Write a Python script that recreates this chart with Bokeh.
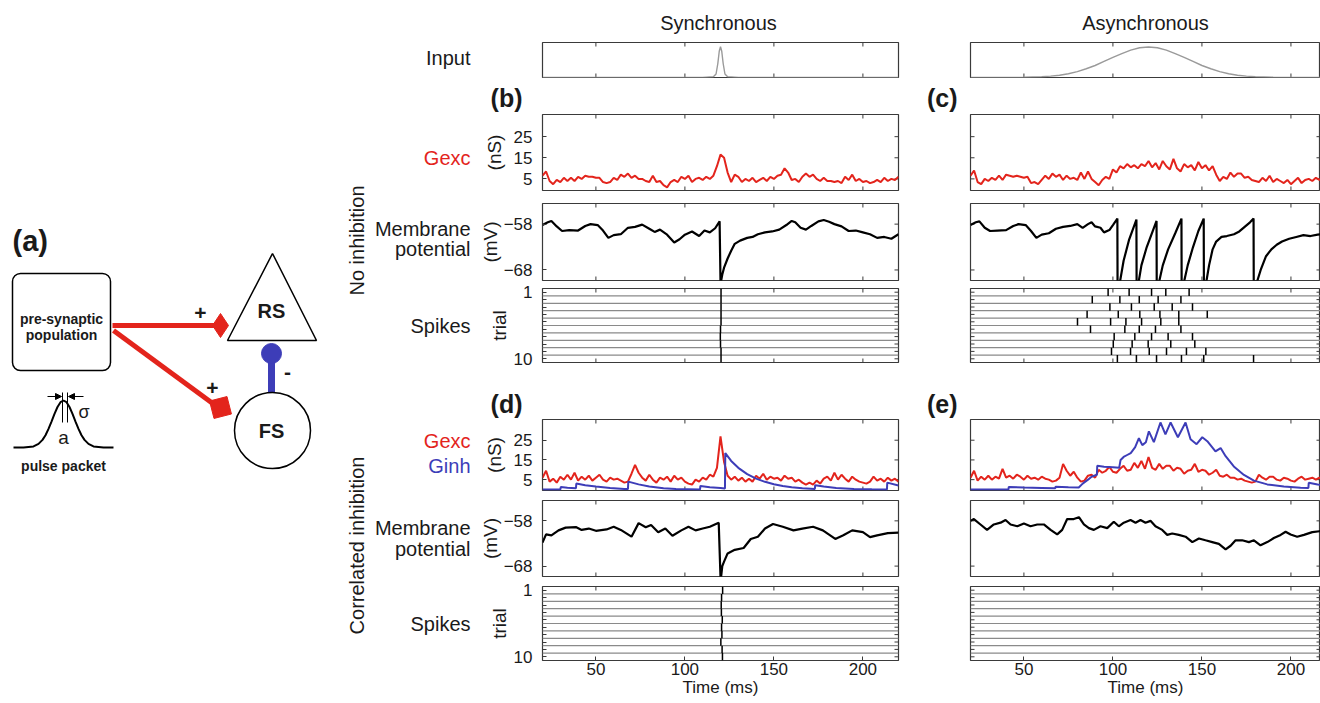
import math
from bokeh.plotting import figure
from bokeh.models import Range1d, FixedTicker, Arrow, NormalHead, Label
from bokeh.layouts import row, column
from bokeh.embed import file_html
from bokeh.resources import INLINE
from bokeh.core.properties import value

FONT = "Liberation Sans"
TEXT = "#1a1a1a"
FRAME_COLOR = "#3a3a3a"
RED = "#e3241c"
BLUE = "#3d3db8"
INPUT_GRAY = "#9a9a9a"
RASTER_GRAY = "#8a8a8a"

# ---------------- data ----------------
TIME_TICKS = [50, 100, 150, 200]
T0, T1_SYNC, T1_ASYNC = 20, 220, 216.6
GEXC_TICKS = [5, 15, 25]
VM_TICKS = [-68, -58]
trials = list(range(1, 11))
trial_labels = {t: "" for t in trials[1:-1]}

input_sync_t = [20, 110, 116, 117.5, 118.5, 119.3, 120, 120.7, 121.5, 122.5, 124, 130, 220]
input_sync_v = [0, 0, 0.02, 0.1, 0.4, 0.75, 0.88, 0.75, 0.4, 0.1, 0.02, 0, 0]
input_async_t = [20, 40, 50, 60, 65, 70, 75, 80, 85, 90, 95, 100, 105, 110, 115, 120, 125, 130,
                 135, 140, 145, 150, 155, 160, 165, 170, 175, 180, 190, 200, 220]
input_async_v = [0, 0.001, 0.0055, 0.021, 0.039, 0.066, 0.107, 0.167, 0.25, 0.343, 0.46, 0.576,
                 0.68, 0.78, 0.85, 0.87, 0.85, 0.78, 0.68, 0.576, 0.46, 0.343, 0.25, 0.167, 0.107,
                 0.066, 0.039, 0.021, 0.0055, 0.001, 0]

GEXC_STEP = 2  # ms between samples, first sample at T0
gexc_b = [6.5, 8.5, 4.0, 2.5, 4.5, 3.5, 5.5, 4.0, 5.5, 4.0,
          6.0, 5.0, 6.5, 6.0, 6.0, 5.5, 5.5, 3.5, 3.0, 3.5,
          5.5, 4.5, 7.0, 6.0, 7.5, 5.5, 6.5, 5.0, 5.0, 4.0,
          3.5, 6.5, 3.5, 4.0, 2.0, 1.0, 3.5, 4.5, 3.5, 6.0,
          5.0, 6.5, 3.5, 5.0, 5.5, 4.5, 6.0, 5.0, 6.5, 11.0,
          16.5, 15.0, 8.0, 3.5, 7.0, 6.0, 3.5, 5.0, 4.0, 5.5,
          3.5, 4.5, 5.5, 4.0, 6.0, 5.0, 6.5, 7.0, 10.0, 8.0,
          4.5, 5.0, 3.5, 6.0, 7.5, 6.0, 7.0, 5.0, 4.0, 5.5,
          4.0, 4.0, 3.5, 4.0, 3.0, 6.0, 4.5, 7.0, 4.0, 5.0,
          3.5, 4.0, 3.0, 3.5, 4.5, 3.5, 5.5, 4.0, 5.0, 4.5,
          6.0]
gexc_c = [6.5, 9.0, 3.5, 2.5, 5.0, 4.0, 5.5, 4.5, 6.5, 4.5,
          7.0, 6.5, 6.0, 6.5, 6.0, 5.5, 6.0, 3.0, 3.5, 2.5,
          4.5, 6.5, 5.0, 7.5, 6.0, 7.0, 4.5, 6.5, 5.0, 5.5,
          4.5, 8.0, 5.0, 8.5, 5.0, 3.5, 2.0, 4.5, 6.0, 5.0,
          9.5, 8.0, 11.0, 10.0, 12.0, 10.5, 11.5, 10.0, 12.0, 11.0,
          13.5, 10.5, 12.5, 9.5, 13.5, 11.0, 9.5, 14.5, 10.0, 8.5,
          12.0, 10.5, 11.5, 9.0, 13.0, 10.0, 11.5, 9.0, 11.0, 7.0,
          4.0, 6.0, 5.0, 8.0, 6.0, 7.5, 7.5, 5.5, 6.0, 4.5,
          4.0, 3.5, 5.5, 4.0, 6.5, 3.5, 5.0, 4.0, 3.0, 4.5,
          2.5, 4.0, 5.5, 3.0, 4.5, 5.0, 4.0, 5.5, 4.5, 6.0,
          5.0]
gexc_d = [6.0, 9.5, 4.0, 5.5, 3.5, 6.5, 5.0, 7.5, 5.0, 8.5,
          4.5, 6.5, 5.0, 7.0, 4.5, 6.0, 7.5, 5.0, 4.0, 6.0,
          5.0, 5.5, 4.5, 3.5, 4.0, 8.0, 12.5, 8.5, 6.0, 4.5,
          7.5, 5.0, 3.5, 6.0, 5.0, 6.5, 4.0, 7.0, 5.0, 6.0,
          4.0, 3.0, 2.5, 5.0, 4.0, 6.0, 5.0, 7.5, 6.5, 11.0,
          27.0, 14.0, 7.0, 5.0, 6.5, 4.5, 6.0, 4.0, 5.5, 4.0,
          7.0, 5.5, 8.0, 5.0, 6.5, 5.5, 6.0, 4.5, 7.0, 5.5,
          6.0, 4.0, 5.0, 3.5, 2.5, 3.5, 2.5, 4.5, 3.0, 5.5,
          6.5, 4.5, 8.5, 5.0, 7.5, 5.5, 4.0, 6.5, 5.0, 4.0,
          3.5, 3.0, 4.0, 6.5, 4.5, 5.5, 4.0, 6.0, 4.5, 5.5,
          4.0]
gexc_e = [6.0, 9.5, 4.5, 6.5, 5.0, 7.0, 5.0, 6.5, 5.5, 10.5,
          6.0, 7.0, 5.5, 7.5, 6.5, 5.0, 7.0, 5.5, 6.0, 5.0,
          6.5, 5.5, 5.0, 4.0, 4.5, 6.0, 13.0, 9.5, 7.0, 9.0,
          6.0, 4.0, 4.5, 7.0, 7.5, 6.0, 10.0, 8.5, 9.5, 11.5,
          9.0, 8.5, 10.5, 12.0, 9.5, 10.0, 13.5, 11.0, 14.5, 10.5,
          16.5, 11.0, 10.0, 13.0, 10.5, 12.0, 12.0, 9.5, 11.0, 10.5,
          8.0, 9.5, 10.0, 13.0, 9.0, 10.0, 9.5, 7.5, 8.5, 10.0,
          7.0, 6.5, 7.5, 6.0, 6.0, 5.0, 5.5, 4.5, 4.0, 3.5,
          4.0, 7.5, 6.0, 5.0, 6.5, 6.5, 5.0, 4.5, 6.0, 5.5,
          4.5, 4.0, 5.5, 6.5, 5.0, 5.5, 6.0, 5.0, 6.0, 5.0,
          5.5]

ginh_d_t = [20, 30, 30.3, 34, 38.8, 39, 44, 50, 58, 66,
            68, 68.2, 74, 80, 88, 95, 108.5, 108.7, 114, 120,
            122.5, 122.7, 126, 130, 135, 140, 145, 150, 155, 160,
            166, 173, 173.2, 178, 185, 195, 205, 213.5, 213.7, 220]
ginh_d_v = [0, 0, 1.3, 0.9, 0.7, 3.0, 2.2, 1.5, 0.8, 0.3,
            0.2, 4.0, 2.6, 1.5, 0.6, 0.2, 0.0, 1.8, 1.2, 0.8,
            0.5, 18.5, 14.5, 11.0, 7.8, 5.5, 3.9, 2.7, 1.8, 1.2,
            0.6, 0.3, 2.2, 1.5, 0.8, 0.3, 0.1, 0.0, 3.5, 2.0]
ginh_e_t = [20, 41.3, 41.5, 50, 60, 67.6, 67.8, 75, 80.8, 83,
            86, 88, 91, 91.2, 95, 100, 103.5, 104.3, 106, 108,
            110, 112.5, 114.6, 116.5, 118.5, 120.2, 123, 126.7, 129.5, 132.4,
            136.5, 140.8, 143.6, 147, 150.2, 153, 157.6, 160.5, 163.3, 167.9,
            173.6, 179.2, 186.7, 196, 205.4, 209.8, 210, 215, 220]
ginh_e_v = [0, 0, 1.3, 1.0, 0.8, 0.6, 1.4, 1.1, 1.0, 3.0,
            5.0, 6.5, 7.5, 12.0, 11.5, 11.3, 11.0, 15.0, 16.5, 17.5,
            18.5, 21.5, 26.0, 22.5, 24.0, 29.5, 24.0, 34.0, 28.0, 34.0,
            26.5, 34.0, 25.5, 23.0, 26.5, 24.5, 19.3, 21.0, 16.9, 11.7,
            7.4, 4.5, 2.6, 1.5, 0.9, 0.8, 3.4, 2.5, 2.0]

vm_b_t = [20, 23, 25, 28, 31, 35, 40, 44, 47, 51,
          54, 57, 60, 64, 68, 72, 76, 80, 83, 86,
          90, 94, 97, 100, 104, 108, 111, 114, 117, 119.5,
          120, 120.3, 121, 122, 124, 126, 128, 131, 135, 138,
          141, 145, 149, 153, 157, 160, 162, 165, 168, 171,
          175, 178, 181, 184, 188, 192, 196, 200, 204, 208,
          212, 216, 220]
vm_b_v = [-58.2, -57.6, -57.3, -58.5, -59.5, -59.3, -59.4, -58.4, -58.0, -58.2,
          -59.4, -61.0, -60.4, -60.2, -58.8, -58.6, -58.1, -59.0, -59.7, -59.2,
          -60.3, -62.0, -61.3, -60.3, -59.6, -60.6, -59.4, -59.8, -58.9, -57.4,
          -70.5, -70.5, -69.0, -67.5, -65.5, -63.8, -62.3, -61.6, -61.0, -60.8,
          -60.2, -59.8, -59.6, -59.2, -58.2, -57.3, -57.6, -58.8, -59.2, -58.4,
          -57.4, -57.1, -57.5, -58.0, -58.5, -59.5, -59.4, -59.8, -60.2, -61.0,
          -60.8, -61.2, -60.2]
vm_c_t = [20, 23, 25, 28, 31, 35, 40, 44, 47, 51,
          54, 57, 60, 64, 68, 72, 76, 80, 83, 86,
          88, 90, 93, 95, 98, 100, 102.5, 102.6, 104, 106,
          109, 113.2, 113.3, 114.5, 116, 119, 124.5, 124.6, 126, 128,
          131, 135, 138.5, 138.6, 140, 142, 145, 148, 151, 151.1,
          152.5, 154, 156, 158, 161, 164, 168, 171, 174, 177,
          179, 179.1, 181, 183, 186, 189, 192, 195, 199, 203,
          207, 211, 215, 220]
vm_c_v = [-58.2, -57.6, -57.4, -58.8, -59.5, -59.4, -59.3, -58.4, -58.0, -58.2,
          -59.5, -61.0, -60.3, -60.0, -59.0, -58.6, -58.4, -58.0, -58.8, -58.0,
          -57.6, -58.5, -58.8, -59.8, -59.3, -58.2, -56.8, -70.5, -70.5, -66.0,
          -61.5, -57.0, -70.5, -70.5, -67.0, -63.0, -57.3, -70.5, -70.5, -67.0,
          -63.5, -60.0, -56.8, -70.5, -70.5, -67.0, -63.0, -59.5, -56.8, -70.5,
          -70.5, -67.0, -63.5, -61.8, -60.8, -60.6, -60.2, -59.6, -58.6, -57.6,
          -56.8, -70.5, -70.5, -68.0, -65.0, -63.5, -62.5, -61.8, -61.2, -60.8,
          -60.4, -60.6, -60.3, -60.0]
vm_d_t = [20, 22, 25, 29, 33, 39, 42, 46, 50, 56,
          60, 64, 70, 74, 78, 81, 85, 89, 93, 98,
          102, 106, 110, 114, 119, 120, 120.3, 121, 122, 124,
          128, 133, 137, 141, 145, 149.5, 155, 161, 166, 172,
          177.5, 184.5, 189, 194, 200, 204, 208, 214, 220]
vm_d_v = [-62.8, -61.0, -61.2, -60.1, -59.5, -59.4, -60.0, -59.7, -60.2, -59.9,
          -59.3, -60.0, -61.5, -58.5, -59.4, -58.9, -60.5, -59.7, -61.3, -60.1,
          -59.3, -60.1, -59.7, -59.3, -58.4, -70.5, -70.5, -68.0, -67.0, -65.2,
          -64.4, -64.0, -62.0, -61.5, -59.7, -58.7, -59.3, -60.1, -59.7, -59.3,
          -60.1, -62.0, -61.2, -60.1, -60.5, -61.6, -61.2, -60.7, -60.6]
vm_e_t = [20, 21.9, 25.6, 29.3, 33.1, 36.9, 39.7, 42.5, 46.3, 50,
          53.7, 57.5, 61.2, 65, 68.7, 71.5, 74.3, 78, 80.9, 83.7,
          86.5, 89.3, 93, 96.8, 100.5, 103.3, 106.1, 109.9, 112.7, 115.5,
          118.3, 121.1, 123.9, 127.7, 130.5, 133.3, 137, 140.8, 144.6, 148.3,
          152, 155.8, 159.5, 163.3, 166.1, 168.9, 172.6, 176.4, 179.2, 182.9,
          186.7, 190.4, 194.2, 197, 199.8, 203.5, 207.3, 212, 216, 220]
vm_e_v = [-58.0, -57.6, -58.8, -60.0, -58.8, -58.4, -57.8, -58.8, -59.2, -58.6,
          -59.2, -58.8, -58.8, -60.0, -61.0, -60.0, -57.6, -57.6, -57.2, -58.8,
          -59.6, -60.0, -59.2, -59.6, -58.2, -59.2, -58.4, -57.8, -58.4, -57.8,
          -58.4, -58.0, -59.2, -60.0, -61.1, -60.8, -61.1, -61.5, -62.7, -61.9,
          -62.3, -62.7, -63.1, -64.3, -63.5, -62.3, -62.3, -62.7, -62.3, -63.4,
          -62.7, -61.8, -61.1, -60.4, -61.0, -61.5, -61.1, -60.5, -60.3, -60.2]

spikes_b = [[120.3], [120.3], [120.3], [120.3], [120.3], [120.0], [119.9], [120.0], [120.3], [120.3]]
spikes_c = [[97.3, 109.1, 121.7, 129.7, 142.8],
            [88.4, 103.9, 114.8, 125.4, 138.2],
            [98.3, 110.4, 123.2, 133.3, 144.7],
            [85.5, 103.0, 115.1, 126.4, 137.0, 153.0],
            [80.1, 98.7, 107.3, 116.1, 126.9, 137.0],
            [87.4, 106.7, 114.8, 123.9, 138.2],
            [100.7, 112.3, 121.7, 131.0, 144.7],
            [100.2, 110.8, 119.8, 132.5, 146.0],
            [99.2, 109.9, 120.4, 130.1, 141.3, 152.2],
            [102.5, 113.2, 124.5, 138.5, 151.0, 179.0]]
spikes_d = [[121.2], [120.6], [120.4], [120.5], [121.0], [120.6], [120.8], [120.2], [120.9], [121.1]]
spikes_e = [[], [], [], [], [], [], [], [], [], []]

# schematic (a): pulse packet profile (offset from centre, height in px)
pulse_dx = [-50, -40, -30, -25, -21, -18, -15, -12, -9, -6, -3, 0, 3, 6, 9, 12, 15, 18, 21, 25, 30, 40, 50]
pulse_h = [0, 0.1, 1.1, 3.6, 7.6, 12.3, 18.6, 25.9, 33.6, 40.5, 45.3, 47, 45.3, 40.5, 33.6, 25.9, 18.6,
           12.3, 7.6, 3.6, 1.1, 0.1, 0]

# ---------------- layout constants ----------------
LEFT_W = 472
BORDER_L = 70
SYNC_FRAME_W, ASYNC_FRAME_W = 356, 350
SYNC_BR = 2
TICK_PX = 4
GEXC_RANGE = (-0.5, 35.5)
VM_RANGE = (-70.3, -53.5)
TRIAL_RANGE = (10.5, 0.5)
TICK_FS = "17px"
LAB_FS = "19px"


def inner_ticks(p, xr, yr, fw, fh, xticks, yticks, sides):
    dx = (xr[1] - xr[0]) / fw * TICK_PX
    dy = (yr[1] - yr[0]) / fh * TICK_PX
    x0, x1, y0, y1 = [], [], [], []
    for t in xticks:
        if "top" in sides:
            x0.append(t); x1.append(t); y0.append(yr[1]); y1.append(yr[1] - dy)
        if "bottom" in sides:
            x0.append(t); x1.append(t); y0.append(yr[0]); y1.append(yr[0] + dy)
    for t in yticks:
        if "left" in sides:
            x0.append(xr[0]); x1.append(xr[0] + dx); y0.append(t); y1.append(t)
        if "right" in sides:
            x0.append(xr[1]); x1.append(xr[1] - dx); y0.append(t); y1.append(t)
    if x0:
        p.segment(x0=x0, x1=x1, y0=y0, y1=y1, line_color=FRAME_COLOR, line_width=1)


def real_axis(ax, ticks, standoff, overrides=None):
    ax.ticker = FixedTicker(ticks=ticks)
    ax.major_tick_in = TICK_PX
    ax.major_tick_out = 0
    ax.minor_tick_line_color = None
    ax.axis_line_color = None
    ax.major_tick_line_color = FRAME_COLOR
    ax.major_label_text_font = FONT
    ax.major_label_text_font_size = TICK_FS
    ax.major_label_text_color = TEXT
    ax.major_label_standoff = standoff
    if overrides:
        ax.major_label_overrides = overrides


def panel(col, height, bt, bb, yr, yticks, ylab=None, ylab_standoff=0, yoverrides=None, xlabel=False):
    sync = col == "sync"
    fw = SYNC_FRAME_W if sync else ASYNC_FRAME_W
    br = SYNC_BR if sync else 0
    xr = (T0, T1_SYNC if sync else T1_ASYNC)
    show_y = sync and len(yticks) > 0
    p = figure(width=BORDER_L + fw + br, height=height,
               x_range=Range1d(*xr), y_range=Range1d(*yr),
               toolbar_location=None, tools="", output_backend="svg",
               min_border_left=BORDER_L, min_border_right=br,
               min_border_top=bt, min_border_bottom=bb,
               x_axis_location="below" if xlabel else None,
               y_axis_location="left" if show_y else None)
    p.grid.visible = False
    p.outline_line_color = FRAME_COLOR
    p.outline_line_width = 1.2
    sides = ["top", "right"]
    if xlabel:
        xa = p.xaxis[0]
        real_axis(xa, TIME_TICKS, 2)
        xa.axis_label = "Time (ms)"
        xa.axis_label_text_font = FONT
        xa.axis_label_text_font_size = "17px"
        xa.axis_label_text_font_style = "normal"
        xa.axis_label_text_color = TEXT
        xa.axis_label_standoff = 0
    else:
        sides.append("bottom")
    if show_y:
        ya = p.yaxis[0]
        real_axis(ya, yticks, 10, yoverrides)
        if ylab:
            ya.axis_label = ylab
            ya.axis_label_text_font = FONT
            ya.axis_label_text_font_size = LAB_FS
            ya.axis_label_text_font_style = "normal"
            ya.axis_label_text_color = TEXT
            ya.axis_label_standoff = ylab_standoff
    else:
        sides.append("left")
    inner_ticks(p, xr, yr, fw, height - bt - bb, TIME_TICKS, yticks, sides)
    return p


def gexc_times(vals):
    return [T0 + GEXC_STEP * i for i in range(len(vals))]


def raster(p, spikes, t_end):
    sep = [t + 0.5 for t in trials[:-1]]
    p.segment(x0=T0, x1=t_end, y0=sep, y1=sep, line_color=RASTER_GRAY, line_width=1.2)
    xs, y0, y1 = [], [], []
    for tr, ts in zip(trials, spikes):
        for s in ts:
            xs.append(s)
            y0.append(tr - 0.5)
            y1.append(tr + 0.5)
    if xs:
        p.segment(x0=xs, x1=xs, y0=y0, y1=y1, line_color="black", line_width=1.5)


def strip(col, height, ytop, items=(), tag=None, tag_gap=0):
    """Blank band between panels; a panel letter is drawn as a horizontal axis label."""
    sync = col == "sync"
    fw = SYNC_FRAME_W if sync else ASYNC_FRAME_W
    br = SYNC_BR if sync else 0
    fx0 = LEFT_W + BORDER_L if sync else LEFT_W + BORDER_L + SYNC_BR + SYNC_FRAME_W + BORDER_L
    s = figure(width=BORDER_L + fw + br, height=height,
               x_range=Range1d(fx0, fx0 + fw), y_range=Range1d(ytop + height, ytop),
               toolbar_location=None, tools="", output_backend="svg",
               min_border_left=BORDER_L, min_border_right=br, min_border_top=0, min_border_bottom=0,
               x_axis_location=None, y_axis_location="left" if tag else None)
    s.grid.visible = False
    s.outline_line_color = None
    if tag:
        ya = s.yaxis[0]
        ya.ticker = FixedTicker(ticks=[])
        ya.axis_line_color = None
        ya.major_tick_line_color = None
        ya.minor_tick_line_color = None
        ya.major_label_standoff = 0
        ya.axis_label = tag
        ya.axis_label_orientation = "horizontal"
        ya.axis_label_text_font = FONT
        ya.axis_label_text_font_size = "25px"
        ya.axis_label_text_font_style = "bold"
        ya.axis_label_text_color = TEXT
        ya.axis_label_standoff = tag_gap
    for x, y, txt, size, style, align in items:
        s.add_layout(Label(x=x, y=y, text=txt, text_font=FONT, text_font_size=size,
                           text_font_style=style, text_align=align, text_baseline="middle",
                           text_color=TEXT))
    return s


# ---------------- left schematic / labels ----------------
lf = figure(width=LEFT_W, height=703, x_range=Range1d(0, LEFT_W), y_range=Range1d(703, 0),
            toolbar_location=None, tools="", output_backend="svg", min_border=0,
            x_axis_location=None, y_axis_location=None)
lf.grid.visible = False
lf.outline_line_color = None


def ltext(x, y, txt, size="20px", style="normal", align="center", color=TEXT, angle=0.0):
    lf.text(x=[x], y=[y], text=[txt], text_font=value(FONT), text_font_size=size,
            text_font_style=style, text_align=align, text_baseline="middle",
            text_color=color, angle=angle)


ltext(12, 240, "(a)", size="29px", style="bold", align="left")
lf.quad(left=[12], right=[110], top=[273], bottom=[370], border_radius=8,
        fill_color=None, line_color="black", line_width=1.5)
ltext(61, 318, "pre-synaptic", size="14px", style="bold")
ltext(61, 334, "population", size="14px", style="bold")
lf.line(x=[63 + d for d in pulse_dx], y=[447 - h for h in pulse_h], line_color="black", line_width=2)
lf.segment(x0=[62, 67], x1=[62, 67], y0=[392, 392], y1=[422, 422], line_color="black", line_width=1)
lf.add_layout(Arrow(end=NormalHead(size=6, fill_color="black", line_color="black"),
                    x_start=47, y_start=396, x_end=61, y_end=396, line_width=1))
lf.add_layout(Arrow(end=NormalHead(size=6, fill_color="black", line_color="black"),
                    x_start=83, y_start=396, x_end=68, y_end=396, line_width=1))
ltext(78, 411, "σ", size="18px", align="left")
ltext(63, 437, "a", size="19px")
ltext(63, 465, "pulse packet", size="14px", style="bold")

lf.line(x=[112, 214], y=[325, 325], line_color=RED, line_width=5)
lf.line(x=[113, 215], y=[330, 405], line_color=RED, line_width=5)
lf.scatter(x=[220], y=[325], marker="diamond", size=24, fill_color=RED, line_color=RED)
lf.scatter(x=[220], y=[407], marker="square", size=18, angle=0.25, fill_color=RED, line_color=RED)
ltext(200, 312, "+", size="21px", style="bold")
ltext(212, 387, "+", size="21px", style="bold")
lf.patch(x=[272, 227, 316], y=[253, 340, 340], fill_color=None, line_color="black", line_width=1.5)
ltext(271, 310, "RS", size="20px", style="bold")
lf.line(x=[271, 271], y=[353, 392], line_color=BLUE, line_width=7)
lf.circle(x=[271], y=[353], radius=10, fill_color=BLUE, line_color=BLUE)
ltext(287, 371, "-", size="21px", style="bold")
lf.circle(x=[272], y=[430], radius=38, fill_color=None, line_color="black", line_width=1.5)
ltext(271, 430, "FS", size="20px", style="bold")

ltext(356, 240, "No inhibition", angle=math.pi / 2)
ltext(356, 545, "Correlated inhibition", angle=math.pi / 2)
for y, txt, color in [(57, "Input", TEXT), (157, "Gexc", RED), (228, "Membrane", TEXT),
                      (248, "potential", TEXT), (325, "Spikes", TEXT), (440, "Gexc", RED),
                      (465, "Ginh", BLUE), (527, "Membrane", TEXT), (548, "potential", TEXT),
                      (623, "Spikes", TEXT)]:
    ltext(470, y, txt, align="right", color=color)


# ---------------- panel columns ----------------
def build_column(col):
    sync = col == "sync"
    t_end = T1_SYNC if sync else T1_ASYNC
    head = "Synchronous" if sync else "Asynchronous"
    hx = 718 if sync else 1145
    gap = 20 if sync else 13
    l1, l2 = ("(b)", "(d)") if sync else ("(c)", "(e)")

    s_top = strip(col, 38, 0, [(hx, 22, head, "20px", "normal", "center")])
    p_in = panel(col, 44, 4, 5, (0, 1), [])
    p_in.line(x=input_sync_t if sync else input_async_t, y=input_sync_v if sync else input_async_v,
              line_color=INPUT_GRAY, line_width=1.4)
    s_1 = strip(col, 31, 82, tag=l1, tag_gap=gap)

    g1 = panel(col, 84, 1, 7, GEXC_RANGE, GEXC_TICKS, ylab="(nS)", ylab_standoff=6)
    gv = gexc_b if sync else gexc_c
    g1.line(x=gexc_times(gv), y=gv, line_color=RED, line_width=2)

    v1 = panel(col, 84, 6, 1, VM_RANGE, VM_TICKS, ylab="(mV)", ylab_standoff=0)
    v1.line(x=vm_b_t if sync else vm_c_t, y=vm_b_v if sync else vm_c_v, line_color="black", line_width=2.2)

    r1 = panel(col, 107, 7, 26, TRIAL_RANGE, trials, ylab="trial", ylab_standoff=1, yoverrides=trial_labels)
    raster(r1, spikes_b if sync else spikes_c, t_end)

    s_2 = strip(col, 30, 388, tag=l2, tag_gap=gap)

    g2 = panel(col, 77, 1, 5, GEXC_RANGE, GEXC_TICKS, ylab="(nS)", ylab_standoff=6)
    gv2 = gexc_d if sync else gexc_e
    g2.line(x=gexc_times(gv2), y=gv2, line_color=RED, line_width=2)
    g2.line(x=ginh_d_t if sync else ginh_e_t, y=ginh_d_v if sync else ginh_e_v, line_color=BLUE, line_width=2)

    v2 = panel(col, 83, 5, 2, VM_RANGE, VM_TICKS, ylab="(mV)", ylab_standoff=0)
    v2.line(x=vm_d_t if sync else vm_e_t, y=vm_d_v if sync else vm_e_v, line_color="black", line_width=2.2)

    r2 = panel(col, 125, 8, 43, TRIAL_RANGE, trials, ylab="trial", ylab_standoff=1,
               yoverrides=trial_labels, xlabel=True)
    raster(r2, spikes_d if sync else spikes_e, t_end)

    return column(s_top, p_in, s_1, g1, v1, r1, s_2, g2, v2, r2)


layout = row(lf, build_column("sync"), build_column("async"))

with open("out.html", "w") as f:
    f.write(file_html(layout, INLINE, title="Pulse packet responses"))
